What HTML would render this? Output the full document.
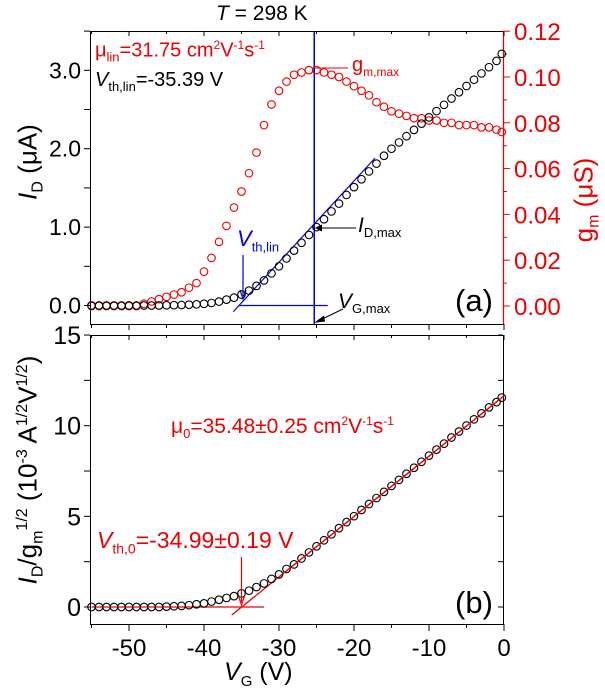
<!DOCTYPE html>
<html><head><meta charset="utf-8"><style>
body{margin:0;background:#fff}
svg{display:block;font-family:"Liberation Sans",sans-serif}
</style></head><body>
<svg id="c" width="605" height="691" viewBox="0 0 605 691" xmlns="http://www.w3.org/2000/svg"></svg>
<script>
const vg = [-55,-54,-53,-52,-51,-50,-49,-48,-47,-46,-45,-44,-43,-42,-41,-40,-39,-38,-37,-36,-35,-34,-33,-32,-31,-30,-29,-28,-27,-26,-25,-24,-23,-22,-21,-20,-19,-18,-17,-16,-15,-14,-13,-12,-11,-10,-9,-8,-7,-6,-5,-4,-3,-2,-1,-0.3];
const idVals = [0,0,0,0,0,0,0,0,0,0,0.003,0.004,0.006,0.01,0.015,0.022,0.033,0.05,0.075,0.1,0.14,0.19,0.25,0.32,0.41,0.5,0.6,0.7,0.8,0.9,1.0,1.1,1.2,1.3,1.41,1.51,1.61,1.71,1.81,1.91,2.0,2.08,2.16,2.24,2.32,2.4,2.48,2.56,2.64,2.72,2.8,2.88,2.96,3.04,3.12,3.21];
const gmVals = [0,0,0,0,0,0,0,0.001,0.002,0.003,0.004,0.005,0.006,0.008,0.01,0.015,0.021,0.028,0.035,0.043,0.05,0.058,0.067,0.079,0.088,0.094,0.098,0.101,0.102,0.103,0.103,0.102,0.101,0.1,0.098,0.096,0.094,0.092,0.089,0.087,0.085,0.084,0.083,0.082,0.082,0.081,0.081,0.08,0.08,0.079,0.079,0.079,0.078,0.078,0.077,0.076];
const yfVals = [0,0,0,0,0,0,0,0,0,0,0.02,0.04,0.06,0.1,0.15,0.2,0.3,0.4,0.5,0.6,0.75,0.9,1.1,1.3,1.55,1.8,2.1,2.35,2.68,3.01,3.35,3.68,4.01,4.35,4.68,5.01,5.35,5.68,6.01,6.35,6.68,7.01,7.35,7.68,8.01,8.35,8.68,9.01,9.35,9.68,10.01,10.35,10.68,11.01,11.3,11.55];
const xTicks = [-50,-40,-30,-20,-10,0];
const idTicks = ["0.0","1.0","2.0","3.0"];
const gmTicks = ["0.00","0.02","0.04","0.06","0.08","0.10","0.12"];
const yfTicks = ["0","5","10","15"];

const NS="http://www.w3.org/2000/svg", svg=document.getElementById('c');
const X=v=>504+v*7.5;
const YI=v=>305.5-v*78.4;
const YG=v=>306-v*2290;
const YB=v=>607-v*18.13;
function el(tag,a,txt){const e=document.createElementNS(NS,tag);for(const k in a)e.setAttribute(k,a[k]);if(txt!==undefined)e.textContent=txt;svg.appendChild(e);return e;}
function line(x1,y1,x2,y2,c,w){return el('line',{x1,y1,x2,y2,stroke:c,'stroke-width':w||1});}

let f=el('rect',{x:90.5,y:31.5,width:413,height:293,fill:'none',stroke:'#000','stroke-width':1});


let ra=line(503.5,31,503.5,325,'#e00',1.2);


let f2=el('rect',{x:90.5,y:335.5,width:413,height:289,fill:'none',stroke:'#000','stroke-width':1});



for(let v=-55;v<=0;v+=5){
  const major=(v%10===0);
  line(X(v),324,X(v),major?330:328,'#000',1);
  line(X(v),31,X(v),major?36:34,'#000',1);
  line(X(v),624,X(v),major?631:628,'#000',1);
  line(X(v),335,X(v),major?340:338,'#000',1);
}
xTicks.forEach(v=>{
  const t=el('text',{x:X(v),y:656,'font-size':24,'text-anchor':'middle',fill:'#000'},String(v));
  
  
});
for(let v=0;v<=3.5;v+=0.5){line(84,YI(v),90,YI(v),'#000',1);}
idTicks.forEach(s=>{
  const t=el('text',{x:81,y:YI(+s)+8,'font-size':23,'text-anchor':'end',fill:'#000'},s);
  
  
});
for(let v=0;v<=0.12001;v+=0.01){line(503,YG(v),Math.round(v*100)%2===0?510:507,YG(v),'#e00',1);}
gmTicks.forEach(s=>{
  const t=el('text',{x:514,y:YG(+s)+9,'font-size':24,fill:'#e00'},s);
  
  
});
for(let v=0;v<=15;v+=2.5){line(84,YB(v),90,YB(v),'#000',1);line(498,YB(v),503,YB(v),'#000',1);}
yfTicks.forEach(s=>{
  const t=el('text',{x:81,y:YB(+s)+9,'font-size':25,'text-anchor':'end',fill:'#000'},s);
  
  
});

line(X(-25.3),31,X(-25.3),324,'#0000ee',1.5);
line(X(-36.1),YI(-0.08),X(-17.2),YI(1.88),'#0000ee',1.2);
line(X(-35.4),YI(0),X(-23.5),YI(0),'#0000ee',1.2);
line(X(-34.8),255,X(-34.8),296,'#0000ee',1.2);
el('path',{d:`M${X(-34.8)-3},290 L${X(-34.8)},299 L${X(-34.8)+3},290`,fill:'none',stroke:'#0000ee','stroke-width':1.2});

vg.forEach((v,i)=>{
  const c=el('circle',{cx:X(v),cy:YG(gmVals[i]),r:3.8,fill:'none',stroke:'#e00','stroke-width':1.1});
  
  
});
vg.forEach((v,i)=>{
  const c=el('circle',{cx:X(v),cy:YI(idVals[i]),r:3.8,fill:'none',stroke:'#000','stroke-width':1.1});
  
  
});
line(X(-55),YB(0),X(-32),YB(0),'#e00',1.3);
line(X(-36.3),YB(-0.44),X(0),YB(11.65),'#e00',1.3);
vg.forEach((v,i)=>{
  const c=el('circle',{cx:X(v),cy:YB(yfVals[i]),r:3.8,fill:'none',stroke:'#000','stroke-width':1.1});
  
  
});
line(X(-35),557,X(-35),602,'#e00',1.2);
el('path',{d:`M${X(-35)-3},596 L${X(-35)},605 L${X(-35)+3},596`,fill:'none',stroke:'#e00','stroke-width':1.2});
line(X(-30),YB(1.66),X(0),YB(11.65),'#e00',1.2);

line(315,68,348,68,'#e00',1);
line(318,228,356,228,'#000',1);
el('path',{d:'M322,225 L316,228 L322,231',fill:'#000',stroke:'#000'});
line(343,309,318,321,'#000',1);
el('path',{d:'M324,316 L316,322 L325,321',fill:'#000',stroke:'#000'});
</script>
<div style="position:absolute;left:0;top:0;width:605px;height:691px;font-family:'Liberation Sans',sans-serif;pointer-events:none">
  <div style="position:absolute;left:216px;top:2px;font-size:21px"><i>T</i> = 298 K</div>
  <div style="position:absolute;left:95px;top:38px;font-size:20px;color:#e00">μ<sub style="font-size:13px">lin</sub>=31.75 cm<sup style="font-size:12px">2</sup>V<sup style="font-size:12px">-1</sup>s<sup style="font-size:12px">-1</sup></div>
  <div style="position:absolute;left:95px;top:69px;font-size:20px;color:#000"><i>V</i><sub style="font-size:13px">th,lin</sub>=-35.39 V</div>
  <div style="position:absolute;left:352px;top:54px;font-size:20px;color:#e00">g<sub style="font-size:12px">m,max</sub></div>
  <div style="position:absolute;left:237px;top:226px;font-size:22px;color:#0000ee"><i>V</i><sub style="font-size:13px">th,lin</sub></div>
  <div style="position:absolute;left:358px;top:214px;font-size:21px"><i>I</i><sub style="font-size:13px">D,max</sub></div>
  <div style="position:absolute;left:338px;top:290px;font-size:21px"><i>V</i><sub style="font-size:13px">G,max</sub></div>
  <div style="position:absolute;left:455px;top:283px;font-size:31px">(a)</div>
  <div style="position:absolute;left:455px;top:585px;font-size:31px">(b)</div>
  <div style="position:absolute;left:171px;top:414px;font-size:21px;color:#e00">μ<sub style="font-size:13px">0</sub>=35.48±0.25 cm<sup style="font-size:12px">2</sup>V<sup style="font-size:12px">-1</sup>s<sup style="font-size:12px">-1</sup></div>
  <div style="position:absolute;left:97px;top:527px;font-size:23px;color:#e00"><i>V</i><sub style="font-size:14px">th,0</sub>=-34.99±0.19 V</div>
  <div style="position:absolute;left:224px;top:658px;font-size:25px"><i>V</i><sub style="font-size:15px">G</sub> (V)</div>
  <div style="position:absolute;left:30px;top:162px;font-size:26px;transform:translate(-50%,-50%) rotate(-90deg);white-space:nowrap"><i>I</i><sub style="font-size:16px">D</sub> (μA)</div>
  <div style="position:absolute;left:586px;top:200px;font-size:26px;color:#e00;transform:translate(-50%,-50%) rotate(-90deg);white-space:nowrap">g<sub style="font-size:16px">m</sub> (μS)</div>
  <div style="position:absolute;left:30px;top:470px;font-size:26px;transform:translate(-50%,-50%) rotate(-90deg);white-space:nowrap"><i>I</i><sub style="font-size:16px">D</sub>/g<sub style="font-size:16px">m</sub><sup style="font-size:16px">1/2</sup> (10<sup style="font-size:16px">-3</sup> A<sup style="font-size:16px">1/2</sup>V<sup style="font-size:16px">1/2</sup>)</div>
</div>
</body></html>
